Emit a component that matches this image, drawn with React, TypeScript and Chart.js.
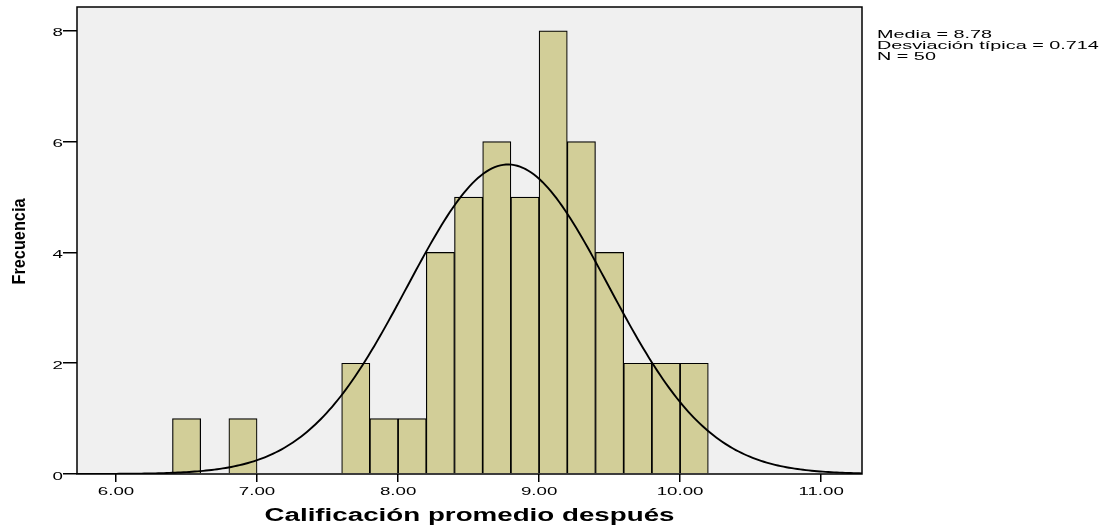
import React, { useEffect, useRef } from "react";
import { Chart, registerables } from "chart.js";

Chart.register(...registerables);

// Histogram bins (centres, width 0.2) and their counts
const binCenters = [6.5, 6.9, 7.7, 7.9, 8.1, 8.3, 8.5, 8.7, 8.9, 9.1, 9.3, 9.5, 9.7, 9.9, 10.1];
const frequencies = [1, 1, 2, 1, 1, 4, 5, 6, 5, 8, 6, 4, 2, 2, 2];
const binWidth = 0.2;

// Summary statistics printed beside the chart (used for the fitted normal curve)
const meanValue = 8.78;
const sdValue = 0.714;
const nValue = 50;
const statLines = ["Media = 8.78", "Desviación típica = 0.714", "N = 50"];

const xTicks = [6, 7, 8, 9, 10, 11];
const xTickLabels = ["6.00", "7.00", "8.00", "9.00", "10.00", "11.00"];
const yTicks = [0, 2, 4, 6, 8];
const yTickLabels = ["0", "2", "4", "6", "8"];
const xMin = 5.723;
const xMax = 11.29;
const yMax = 8.43;

const xTitle = "Calificación promedio después";
const yTitle = "Frecuencia";

// Fitted normal curve (as drawn by the statistics package) from the stated mean / sd / N
const curveXs: number[] = [];
for (let i = 0; i <= 280; i++) curveXs.push(xMin + ((xMax - xMin) * i) / 280);
const normalCurve = curveXs.map((x) => ({
  x,
  y:
    ((nValue * binWidth) / (sdValue * Math.sqrt(2 * Math.PI))) *
    Math.exp(-((x - meanValue) ** 2) / (2 * sdValue * sdValue)),
}));

const FONT = "'Liberation Sans', Arial, sans-serif";
const STRETCH = 1.7; // the reference text is horizontally stretched
const STAT_STRETCH = 1.8;

function drawScaled(
  ctx: CanvasRenderingContext2D,
  text: string,
  x: number,
  y: number,
  sx: number,
  font: string,
  align: CanvasTextAlign
) {
  ctx.save();
  ctx.font = font;
  ctx.translate(x, y);
  ctx.scale(sx, 1);
  ctx.textAlign = align;
  ctx.textBaseline = "alphabetic";
  ctx.fillText(text, 0, 0);
  ctx.restore();
}

function drawFit(
  ctx: CanvasRenderingContext2D,
  text: string,
  x: number,
  y: number,
  targetWidth: number,
  font: string,
  align: CanvasTextAlign
) {
  ctx.save();
  ctx.font = font;
  const w = ctx.measureText(text).width;
  ctx.restore();
  drawScaled(ctx, text, x, y, targetWidth / w, font, align);
}

const decorPlugin = {
  id: "decor",
  beforeDraw(chart: any) {
    const { ctx, chartArea } = chart;
    ctx.save();
    ctx.fillStyle = "#ffffff";
    ctx.fillRect(0, 0, chart.width, chart.height);
    ctx.fillStyle = "#F0F0F0";
    ctx.fillRect(chartArea.left, chartArea.top, chartArea.right - chartArea.left, chartArea.bottom - chartArea.top);
    ctx.restore();
  },
  afterDraw(chart: any) {
    const { ctx, chartArea, scales } = chart;
    ctx.save();
    ctx.strokeStyle = "#000000";
    ctx.lineWidth = 1.5;
    ctx.strokeRect(chartArea.left, chartArea.top, chartArea.right - chartArea.left, chartArea.bottom - chartArea.top);
    ctx.fillStyle = "#000000";
    // tick labels
    xTicks.forEach((v, i) => {
      drawScaled(ctx, xTickLabels[i], scales.x.getPixelForValue(v), 494.5, STRETCH, `11px ${FONT}`, "center");
    });
    yTicks.forEach((v, i) => {
      drawScaled(ctx, yTickLabels[i], 63, scales.y.getPixelForValue(v) + 5.5, STRETCH, `11px ${FONT}`, "right");
    });
    // x-axis title
    drawFit(ctx, xTitle, (chartArea.left + chartArea.right) / 2, 521, 410, `bold 18px ${FONT}`, "center");
    // y-axis title (rotated)
    ctx.save();
    ctx.translate(25, (chartArea.top + chartArea.bottom) / 2 + 1);
    ctx.rotate(-Math.PI / 2);
    drawFit(ctx, yTitle, 0, 0, 86, `bold 19px 'Liberation Sans Narrow', ${FONT}`, "center");
    ctx.restore();
    // statistics box
    statLines.forEach((line, i) => {
      drawScaled(ctx, line, 877, 38 + i * 10.8, STAT_STRETCH, `11px ${FONT}`, "left");
    });
    ctx.restore();
  },
};

export default function App() {
  const canvasRef = useRef<HTMLCanvasElement | null>(null);

  useEffect(() => {
    if (!canvasRef.current) return;
    const chart = new Chart(canvasRef.current, {
      type: "bar",
      data: {
        datasets: [
          {
            type: "line",
            data: normalCurve,
            borderColor: "#000000",
            borderWidth: 1.9,
            pointRadius: 0,
            tension: 0,
            fill: false,
            order: 0,
          } as any,
          {
            type: "bar",
            data: binCenters.map((x, i) => ({ x, y: frequencies[i] })),
            backgroundColor: "#D2CE98",
            borderColor: "#000000",
            borderWidth: 1.2,
            barPercentage: 1,
            categoryPercentage: 1,
            order: 1,
          } as any,
        ],
      },
      options: {
        animation: false,
        responsive: false,
        maintainAspectRatio: false,
        layout: { padding: { left: 0, top: 7, right: 240, bottom: 0 } },
        plugins: { legend: { display: false }, tooltip: { enabled: false }, title: { display: false } },
        scales: {
          x: {
            type: "linear",
            min: xMin,
            max: xMax,
            offset: false,
            afterBuildTicks: (axis: any) => {
              axis.ticks = xTicks.map((v) => ({ value: v }));
            },
            afterFit: (axis: any) => {
              axis.height = 53;
            },
            grid: {
              offset: false,
              drawOnChartArea: false,
              drawTicks: true,
              tickLength: 8,
              color: "#000000",
              lineWidth: 1.5,
            },
            border: { display: false },
            ticks: {
              display: false,
              autoSkip: false,
            },
          },
          y: {
            type: "linear",
            min: 0,
            max: yMax,
            afterBuildTicks: (axis: any) => {
              axis.ticks = yTicks.map((v) => ({ value: v }));
            },
            afterFit: (axis: any) => {
              axis.width = 77;
            },
            grid: {
              drawOnChartArea: false,
              drawTicks: true,
              tickLength: 14,
              color: "#000000",
              lineWidth: 1.5,
            },
            border: { display: false },
            ticks: {
              display: false,
              autoSkip: false,
            },
          },
        },
      },
      plugins: [decorPlugin],
    });
    return () => chart.destroy();
  }, []);

  return (
    <div style={{ position: "absolute", left: 0, top: 0, width: 1102, height: 527 }}>
      <canvas ref={canvasRef} width={1102} height={527} style={{ width: 1102, height: 527, display: "block" }} />
    </div>
  );
}
